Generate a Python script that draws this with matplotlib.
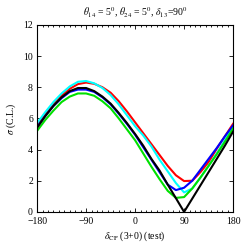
import matplotlib.pyplot as plt
from matplotlib.ticker import MultipleLocator

delta = [-180, -165, -150, -135, -120, -105, -90, -75, -60, -45, -30, -15,
         0, 15, 30, 45, 60, 75, 90, 105, 120, 135, 150, 165, 180]

sig_red = [5.55, 6.25, 6.90, 7.45, 7.90, 8.20, 8.30, 8.22, 8.00, 7.65, 7.10, 6.45,
           5.75, 5.05, 4.35, 3.65, 2.95, 2.35, 1.98, 2.00, 2.55, 3.20, 4.05, 4.85, 5.65]
sig_cyan = [5.70, 6.40, 7.05, 7.60, 8.05, 8.35, 8.40, 8.25, 7.95, 7.50, 6.90, 6.20,
            5.50, 4.90, 4.20, 3.35, 2.60, 1.85, 1.25, 1.50, 2.20, 2.95, 3.75, 4.60, 5.45]
sig_blue = [5.45, 6.15, 6.80, 7.30, 7.70, 7.85, 7.85, 7.70, 7.35, 6.90, 6.30, 5.65,
            4.95, 4.15, 3.35, 2.55, 1.75, 1.40, 1.55, 2.00, 2.70, 3.40, 4.10, 4.85, 5.55]
sig_green = [5.20, 5.90, 6.50, 7.05, 7.40, 7.60, 7.60, 7.45, 7.10, 6.65, 6.00, 5.30,
             4.60, 3.75, 2.90, 2.10, 1.35, 0.90, 0.95, 1.50, 2.20, 2.95, 3.70, 4.50, 5.35]
sig_black = [5.40, 6.15, 6.80, 7.35, 7.75, 7.95, 7.95, 7.75, 7.40, 6.95, 6.35, 5.70,
             5.00, 4.25, 3.40, 2.65, 1.75, 0.88, 0.00, 0.85, 1.70, 2.55, 3.40, 4.25, 5.15]

plt.rc('font', family='Liberation Serif', size=7)
plt.rc('mathtext', fontset='stix')

fig = plt.figure(figsize=(2.49, 2.49), dpi=100)
ax = fig.add_axes([0.149, 0.149, 0.787, 0.751])

ax.plot(delta, sig_red, color='red', lw=1.5)
ax.plot(delta, sig_cyan, color='cyan', lw=1.5)
ax.plot(delta, sig_blue, color='blue', lw=1.5)
ax.plot(delta, sig_green, color='#00e000', lw=1.5)
ax.plot(delta, sig_black, color='black', lw=1.5)

ax.set_xlim(-180, 180)
ax.set_ylim(0, 12)
ax.set_xticks([-180, -90, 0, 90, 180])
ax.set_yticks([0, 2, 4, 6, 8, 10, 12])
ax.xaxis.set_minor_locator(MultipleLocator(10))
ax.tick_params(direction='in', top=True, right=True, length=3, width=0.6)
ax.tick_params(axis='x', pad=4)
ax.tick_params(axis='y', pad=3)
ax.tick_params(which='minor', direction='in', top=True, length=1.5, width=0.6)
for s in ax.spines.values():
    s.set_linewidth(0.8)

ax.set_xlabel(r'$\delta_{\rm CP}$ (3+0) (test)', labelpad=2)
ax.set_ylabel(r'$\sigma$ (C.L.)', labelpad=4)
ax.set_title(r'$\theta_{14}$ = 5$^0$, $\theta_{24}$ = 5$^0$, $\delta_{13}$=90$^0$',
             fontsize=7, pad=6)

fig.savefig('out.png', dpi=100)
